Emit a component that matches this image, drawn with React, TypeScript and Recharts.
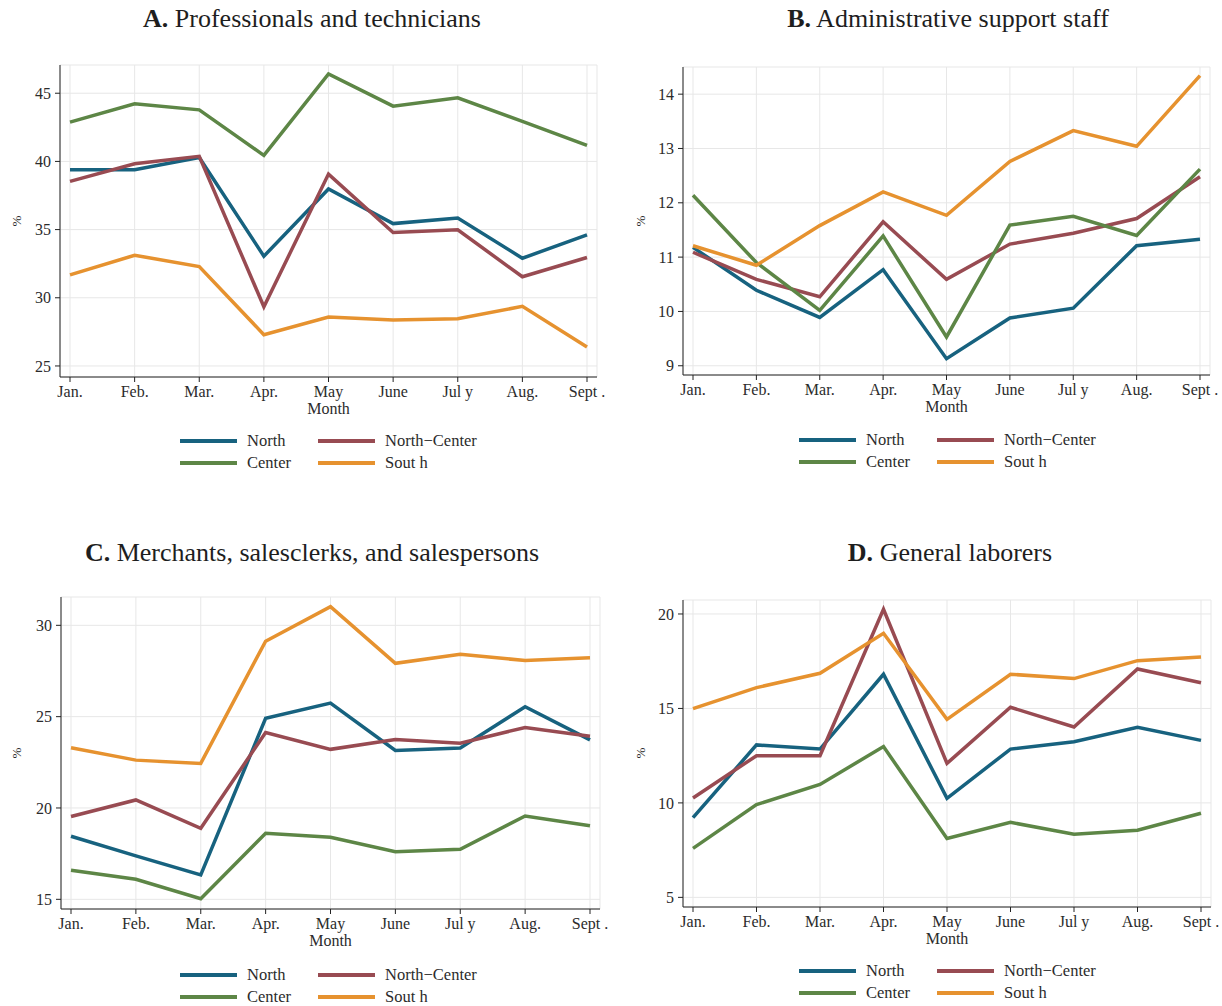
import React from 'react';
import { LineChart, Line, XAxis, YAxis, CartesianGrid } from 'recharts';

const MONTHS = ['Jan.', 'Feb.', 'Mar.', 'Apr.', 'May', 'June', 'Jul y', 'Aug.', 'Sept .'];
const SERIES_NAMES = ['North', 'North\u2212Center', 'Center', 'Sout h'];
const SERIES_KEYS = ['north', 'northCenter', 'center', 'south'];
const COLORS = ['#17627f', '#984b52', '#5d8646', '#e6922f'];

// Panel A: Professionals and technicians
const A_NORTH = [39.39, 39.39, 40.29, 33.05, 37.98, 35.44, 35.85, 32.9, 34.61];
const A_NORTH_CENTER = [38.54, 39.83, 40.37, 29.34, 39.07, 34.78, 34.98, 31.54, 32.95];
const A_CENTER = [42.88, 44.22, 43.78, 40.44, 46.41, 44.05, 44.66, 42.93, 41.17];
const A_SOUTH = [31.68, 33.12, 32.29, 27.29, 28.59, 28.37, 28.46, 29.37, 26.39];
const A_TICKS = [25, 30, 35, 40, 45];

// Panel B: Administrative support staff
const B_NORTH = [11.18, 10.39, 9.89, 10.77, 9.13, 9.88, 10.06, 11.21, 11.33];
const B_NORTH_CENTER = [11.09, 10.59, 10.27, 11.65, 10.59, 11.24, 11.44, 11.71, 12.48];
const B_CENTER = [12.14, 10.9, 10.02, 11.39, 9.53, 11.59, 11.75, 11.4, 12.62];
const B_SOUTH = [11.21, 10.85, 11.58, 12.2, 11.77, 12.76, 13.33, 13.04, 14.34];
const B_TICKS = [9, 10, 11, 12, 13, 14];

// Panel C: Merchants, salesclerks, and salespersons
const C_NORTH = [18.45, 17.38, 16.34, 24.91, 25.74, 23.15, 23.28, 25.54, 23.73];
const C_NORTH_CENTER = [19.53, 20.44, 18.89, 24.13, 23.21, 23.75, 23.55, 24.41, 23.93];
const C_CENTER = [16.59, 16.1, 15.03, 18.62, 18.4, 17.61, 17.74, 19.56, 19.03];
const C_SOUTH = [23.3, 22.62, 22.44, 29.13, 31.02, 27.92, 28.42, 28.07, 28.23];
const C_TICKS = [15, 20, 25, 30];

// Panel D: General laborers
const D_NORTH = [9.22, 13.07, 12.85, 16.81, 10.24, 12.85, 13.24, 14.0, 13.31];
const D_NORTH_CENTER = [10.26, 12.5, 12.5, 20.25, 12.09, 15.06, 14.02, 17.09, 16.36];
const D_CENTER = [7.59, 9.91, 10.98, 12.98, 8.12, 8.97, 8.34, 8.55, 9.45];
const D_SOUTH = [14.99, 16.1, 16.86, 18.98, 14.42, 16.81, 16.58, 17.53, 17.72];
const D_TICKS = [5, 10, 15, 20];

const build = (n: number[], nc: number[], c: number[], s: number[]) =>
  MONTHS.map((m, i) => ({ month: m, north: n[i], northCenter: nc[i], center: c[i], south: s[i] }));

const FONT = '"Liberation Serif", "Times New Roman", serif';
const TEXT = '#2b2b2b';

type PanelProps = {
  letter: string;
  title: string;
  data: any[];
  ticks: number[];
  domain: [number, number];
  left: number;
  top: number;
  margin: { top: number; right: number; bottom: number; left: number };
  yWidth: number;
  titleCenter: number;
  titleY: number;
  pctX: number;
  pctY: number;
  legendX: number;
  legendY: number;
};

function Panel(p: PanelProps) {
  return (
    <>
      <div
        style={{
          position: 'absolute',
          left: p.titleCenter - 305,
          width: 610,
          top: p.titleY - 16,
          height: 32,
          lineHeight: '32px',
          textAlign: 'center',
          fontFamily: FONT,
          fontSize: 26,
          color: '#1e1e1e',
          whiteSpace: 'nowrap',
        }}
      >
        <b>{p.letter}</b> {p.title}
      </div>
      <div style={{ position: 'absolute', left: p.left, top: p.top }}>
        <LineChart width={611} height={430} data={p.data} margin={p.margin}>
          <CartesianGrid stroke="#e7e7e7" strokeWidth={1} />
          <XAxis
            dataKey="month"
            padding={{ left: 10, right: 10 }}
            height={40}
            interval={0}
            tickSize={5}
            tickMargin={4}
            axisLine={{ stroke: '#222' }}
            tickLine={{ stroke: '#222' }}
            tick={{ fill: TEXT, fontFamily: FONT, fontSize: 16 }}
            label={{ value: 'Month', position: 'insideBottom', offset: 3, fill: TEXT, fontFamily: FONT, fontSize: 16 }}
          />
          <YAxis
            width={p.yWidth}
            domain={p.domain}
            ticks={p.ticks}
            allowDataOverflow
            tickSize={5}
            tickMargin={4}
            axisLine={{ stroke: '#222' }}
            tickLine={{ stroke: '#222' }}
            tick={{ fill: TEXT, fontFamily: FONT, fontSize: 16 }}
          />
          {SERIES_KEYS.map((k, i) => (
            <Line
              key={k}
              type="linear"
              dataKey={k}
              stroke={COLORS[i]}
              strokeWidth={3.5}
              dot={false}
              activeDot={false}
              isAnimationActive={false}
            />
          ))}
        </LineChart>
      </div>
      <div
        style={{
          position: 'absolute',
          left: p.pctX - 10,
          top: p.pctY - 10,
          width: 20,
          height: 20,
          lineHeight: '20px',
          textAlign: 'center',
          transform: 'rotate(-90deg)',
          fontFamily: FONT,
          fontSize: 13,
          color: TEXT,
        }}
      >
        %
      </div>
      {SERIES_NAMES.map((name, i) => {
        const col = i % 2;
        const row = Math.floor(i / 2);
        const x = p.legendX + col * 138;
        const y = p.legendY + row * 22;
        return (
          <div key={name} style={{ position: 'absolute', left: x, top: y - 10, height: 20, display: 'flex', alignItems: 'center' }}>
            <div style={{ width: 57, height: 4, background: COLORS[i] }} />
            <div style={{ marginLeft: 10, fontFamily: FONT, fontSize: 16.5, color: TEXT, whiteSpace: 'nowrap' }}>{name}</div>
          </div>
        );
      })}
    </>
  );
}

export default function App() {
  return (
    <div style={{ position: 'relative', width: 1222, height: 1006, background: '#fff', overflow: 'hidden' }}>
      <style>{'body{margin:0;}'}</style>
      <Panel
        letter="A."
        title="Professionals and technicians"
        data={build(A_NORTH, A_NORTH_CENTER, A_CENTER, A_SOUTH)}
        ticks={A_TICKS}
        domain={[24.19, 47.07]}
        left={0}
        top={0}
        margin={{ top: 65, right: 14, bottom: 13, left: 0 }}
        yWidth={60}
        titleCenter={312}
        titleY={19}
        pctX={17}
        pctY={221}
        legendX={180}
        legendY={441}
      />
      <Panel
        letter="B."
        title="Administrative support staff"
        data={build(B_NORTH, B_NORTH_CENTER, B_CENTER, B_SOUTH)}
        ticks={B_TICKS}
        domain={[8.83, 14.5]}
        left={611}
        top={0}
        margin={{ top: 67, right: 12, bottom: 15, left: 0 }}
        yWidth={72}
        titleCenter={948}
        titleY={19}
        pctX={641}
        pctY={221}
        legendX={799}
        legendY={440}
      />
      <Panel
        letter="C."
        title="Merchants, salesclerks, and salespersons"
        data={build(C_NORTH, C_NORTH_CENTER, C_CENTER, C_SOUTH)}
        ticks={C_TICKS}
        domain={[14.47, 31.55]}
        left={0}
        top={534}
        margin={{ top: 63, right: 11, bottom: 15, left: 0 }}
        yWidth={61}
        titleCenter={312}
        titleY={553}
        pctX={17}
        pctY={753}
        legendX={180}
        legendY={975}
      />
      <Panel
        letter="D."
        title="General laborers"
        data={build(D_NORTH, D_NORTH_CENTER, D_CENTER, D_SOUTH)}
        ticks={D_TICKS}
        domain={[4.49, 20.74]}
        left={611}
        top={534}
        margin={{ top: 66, right: 11, bottom: 17, left: 0 }}
        yWidth={72}
        titleCenter={950}
        titleY={553}
        pctX={641}
        pctY={753}
        legendX={799}
        legendY={971}
      />
    </div>
  );
}
